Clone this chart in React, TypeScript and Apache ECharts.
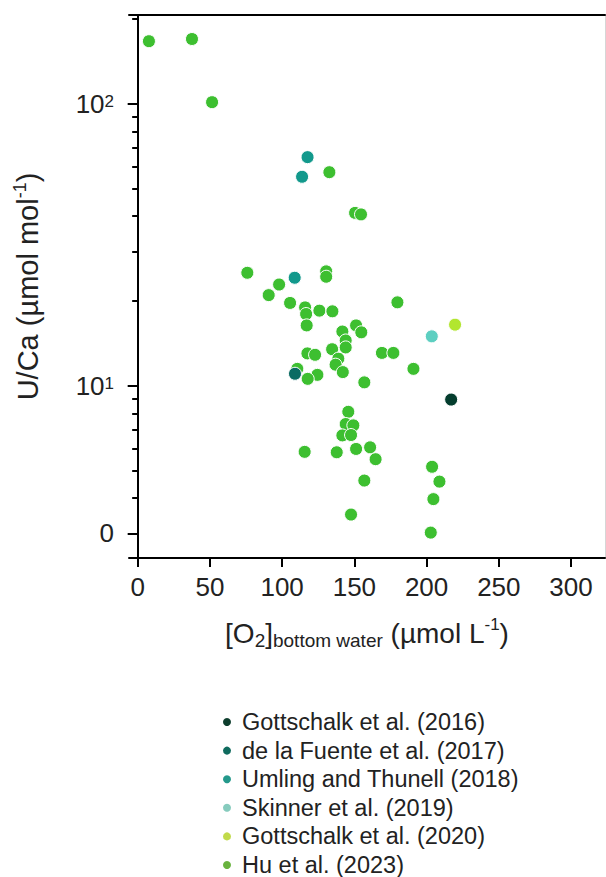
import React, { useEffect, useRef } from "react";
import * as echarts from "echarts";

// ---- data (x: [O2] bottom water µmol/L, y: U/Ca µmol/mol) ----
const seriesNames = [
  "Gottschalk et al. (2016)",
  "de la Fuente et al. (2017)",
  "Umling and Thunell (2018)",
  "Skinner et al. (2019)",
  "Gottschalk et al. (2020)",
  "Hu et al. (2023)",
];

const g16O2 = [217];
const g16UCa = [8.95];

const dlfO2 = [108.9];
const dlfUCa = [11.05];

const utO2 = [117.6, 113.8, 108.7];
const utUCa = [64.8, 55.2, 24.2];

const skO2 = [203.6];
const skUCa = [15.0];

const g20O2 = [219.7];
const g20UCa = [16.5];

const huO2 = [
  7.8, 37.6, 51.5, 132.7, 150.5, 154.6, 75.9, 130.5, 130.5, 97.9,
  90.7, 105.5, 115.9, 116.6, 125.8, 134.8, 179.8, 117, 151.2, 154.8,
  141.7, 144, 144, 134.6, 138.9, 137, 142, 117.5, 122.8, 169.1,
  177, 190.9, 110.5, 124.4, 117.7, 156.9, 145.8, 144, 149.3, 141.7,
  147.7, 115.6, 137.8, 151.2, 160.9, 164.7, 203.8, 208.9, 156.9, 204.7,
  147.7, 202.9,
];
const huUCa = [
  167, 170, 101.5, 57.3, 41.1, 40.6, 25.2, 25.5, 24.4, 22.9,
  21.0, 19.7, 19.0, 18.0, 18.5, 18.4, 19.8, 16.4, 16.4, 15.5,
  15.6, 14.5, 13.7, 13.5, 12.5, 11.9, 11.2, 13.05, 12.9, 13.1,
  13.1, 11.5, 11.5, 10.95, 10.6, 10.3, 8.1, 7.33, 7.25, 6.68,
  6.7, 5.84, 5.82, 5.98, 6.06, 5.5, 5.17, 4.58, 4.62, 3.97,
  3.5, 3.02,
];

const xTickValues = [0, 50, 100, 150, 200, 250, 300];
const yMajorValues = [3, 10, 100];
const yMajorLabels = ["0", "10{s|1}", "10{s|2}"];
const yMinorValues = [4, 5, 6, 7, 8, 9, 20, 30, 40, 50, 60, 70, 80, 90, 200];

// ---- styles ----
const FONT = "'Liberation Sans', Arial, sans-serif";
const TXT = "#222";
const pointColors = ["#043d2e", "#0b6b63", "#12998c", "#5dcfc1", "#b2e62f", "#3dbf30"];
const legendColors = ["#0d3d2d", "#0f6b5e", "#24998b", "#86cbbd", "#c1da4a", "#69b33e"];

const X_MIN = -6;
const X_MAX = 323.5;
const Y_MIN = 0.39;
const Y_MAX = 2.3156;

const lg = (v: number) => Math.log10(v);

function pairs(xs: number[], ys: number[]) {
  return xs.map((x, i) => [x, lg(ys[i])]);
}

export default function App() {
  const ref = useRef<HTMLDivElement>(null);

  useEffect(() => {
    if (!ref.current) return;
    const chart = echarts.init(ref.current, undefined, { renderer: "svg" });

    const dataSets = [
      pairs(g16O2, g16UCa),
      pairs(dlfO2, dlfUCa),
      pairs(utO2, utUCa),
      pairs(skO2, skUCa),
      pairs(g20O2, g20UCa),
      pairs(huO2, huUCa),
    ];

    const majorLog = yMajorValues.map(lg);
    const minorLog = yMinorValues.map(lg);

    const series: any[] = [];
    // Hu first so other series are drawn on top
    const order = [5, 0, 1, 2, 3, 4];
    order.forEach((i) => {
      series.push({
        type: "scatter",
        name: seriesNames[i],
        data: dataSets[i],
        symbol: "circle",
        symbolSize: 13,
        itemStyle: { color: pointColors[i], borderColor: "#ffffff", borderWidth: 1, opacity: 1 },
        emphasis: { disabled: true },
        xAxisIndex: 0,
        yAxisIndex: 0,
        z: i === 5 ? 2 : 3,
      });
    });

    const option: any = {
      animation: false,
      backgroundColor: "#ffffff",
      textStyle: { fontFamily: FONT },
      grid: { left: 129, right: 1, top: 15, bottom: 319, containLabel: false },
      legend: {
        orient: "vertical",
        left: 221,
        top: 710,
        height: 200,
        padding: 0,
        itemWidth: 20,
        itemHeight: 10,
        itemGap: 4.6,
        icon: "circle",
        selectedMode: false,
        textStyle: { fontSize: 23.5, color: TXT, lineHeight: 24, fontFamily: FONT },
        data: seriesNames.map((n, i) => ({ name: n, itemStyle: { color: legendColors[i] } })),
      },
      xAxis: [
        {
          type: "value",
          position: "bottom",
          min: X_MIN,
          max: X_MAX,
          splitLine: { show: false },
          axisLine: { show: true, lineStyle: { color: "#000", width: 2 } },
          axisTick: { show: true, customValues: xTickValues, length: 9, lineStyle: { color: "#000", width: 2 } },
          axisLabel: {
            customValues: xTickValues,
            fontSize: 26,
            color: TXT,
            margin: 16,
            fontFamily: FONT,
          },
          name: "[O{sub|2}]{sub|bottom water} (µmol L{sup|-1})",
          nameLocation: "middle",
          nameGap: 58,
          nameTextStyle: {
            fontSize: 28,
            color: TXT,
            fontFamily: FONT,
            lineHeight: 34,
            rich: {
              sub: { fontSize: 19, color: TXT, fontFamily: FONT, verticalAlign: "bottom", lineHeight: 18 },
              sup: { fontSize: 17, color: TXT, fontFamily: FONT, verticalAlign: "top", lineHeight: 17 },
            },
          },
        },
        {
          type: "value",
          position: "top",
          min: X_MIN,
          max: X_MAX,
          splitLine: { show: false },
          axisLine: { show: true, lineStyle: { color: "#000", width: 2 } },
          axisTick: { show: false },
          axisLabel: { show: false },
        },
      ],
      yAxis: [
        {
          type: "value",
          position: "left",
          min: Y_MIN,
          max: Y_MAX,
          splitLine: { show: false },
          axisLine: { show: true, lineStyle: { color: "#000", width: 2 } },
          axisTick: { show: true, customValues: majorLog, length: 10, lineStyle: { color: "#000", width: 2 } },
          axisLabel: {
            customValues: majorLog,
            margin: 15,
            fontSize: 26,
            color: TXT,
            fontFamily: FONT,
            formatter: (v: number) => {
              for (let k = 0; k < majorLog.length; k++) {
                if (Math.abs(v - majorLog[k]) < 1e-6) return yMajorLabels[k];
              }
              return "";
            },
            rich: {
              s: { fontSize: 17, color: TXT, fontFamily: FONT, verticalAlign: "top", lineHeight: 17, padding: [2, 0, 0, 0] },
            },
          },
          name: "U/Ca (µmol mol{sup|-1})",
          nameLocation: "middle",
          nameGap: 84,
          nameTextStyle: {
            fontSize: 29,
            color: TXT,
            fontFamily: FONT,
            lineHeight: 34,
            rich: {
              sup: { fontSize: 18, color: TXT, fontFamily: FONT, verticalAlign: "top", lineHeight: 18 },
            },
          },
        },
        {
          type: "value",
          position: "left",
          min: Y_MIN,
          max: Y_MAX,
          splitLine: { show: false },
          axisLine: { show: false },
          axisTick: { show: true, customValues: minorLog, length: 5.5, lineStyle: { color: "#000", width: 2 } },
          axisLabel: { show: false },
        },
        {
          type: "value",
          position: "right",
          min: Y_MIN,
          max: Y_MAX,
          splitLine: { show: false },
          axisLine: { show: true, lineStyle: { color: "#d6d6d6", width: 1 } },
          axisTick: { show: false },
          axisLabel: { show: false },
        },
      ],
      series,
    };

    chart.setOption(option);
    return () => chart.dispose();
  }, []);

  return (
    <div
      ref={ref}
      style={{ position: "fixed", left: 0, top: 0, width: 606, height: 877, background: "#fff" }}
    />
  );
}
